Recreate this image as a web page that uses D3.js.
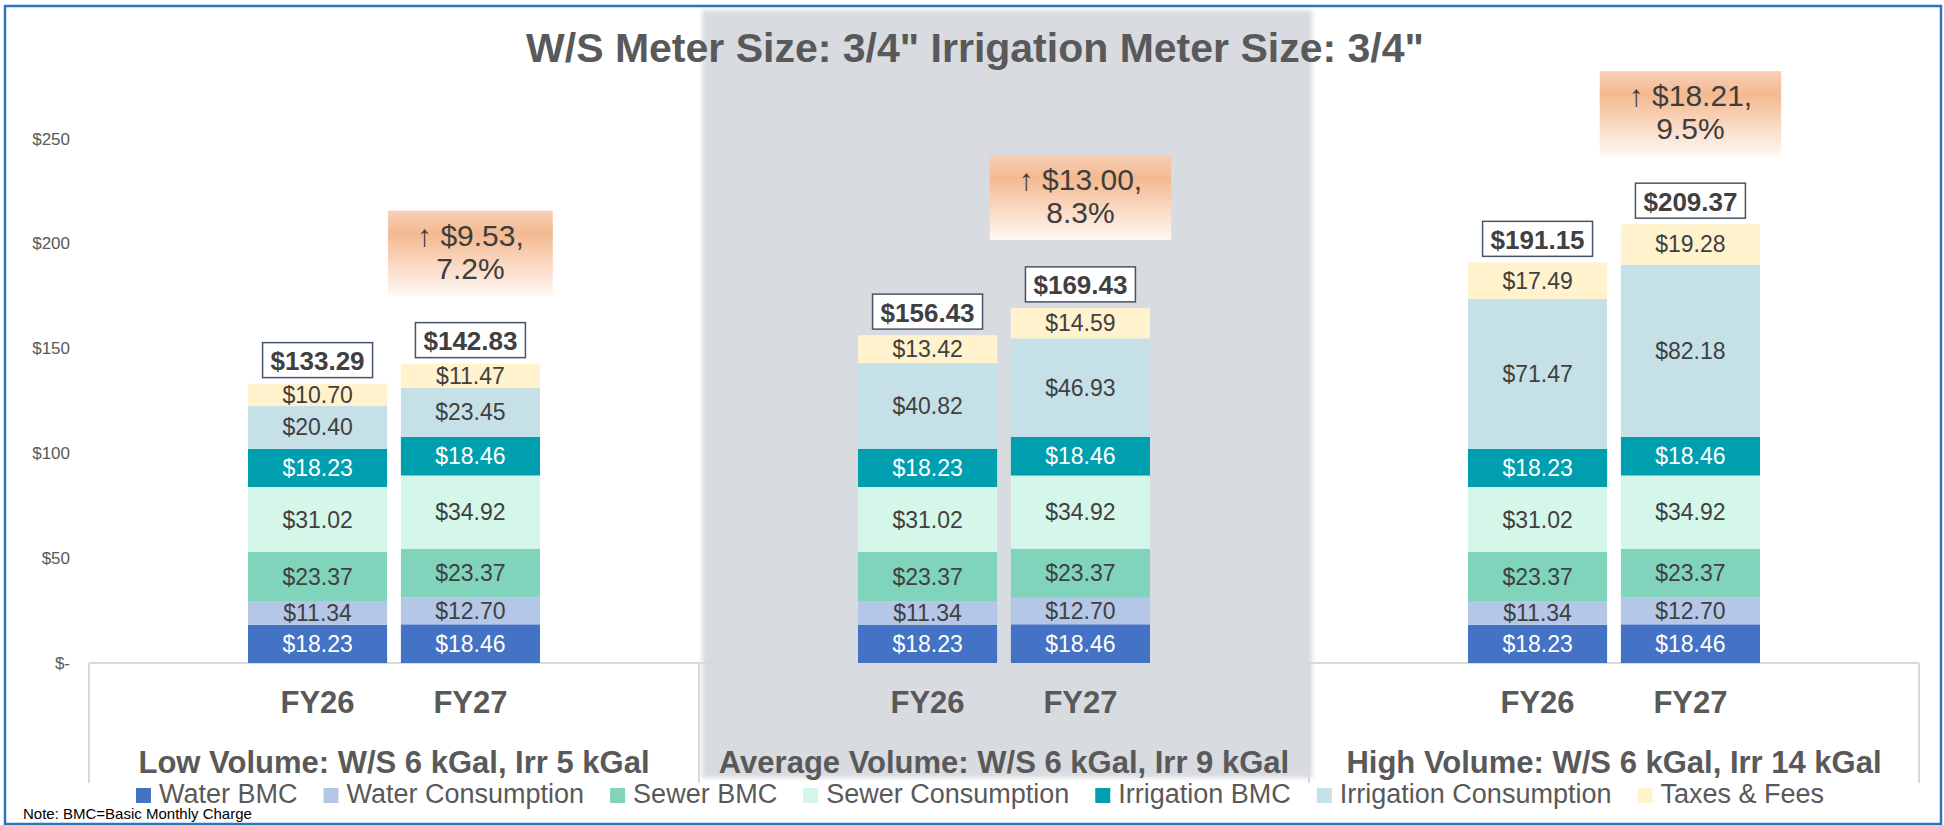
<!DOCTYPE html>
<meta charset="utf-8">
<style>
body { margin: 0; background: #fff; }
text { font-family: "Liberation Sans", Arial, sans-serif; }
.seg-label { font-size: 23px; text-anchor: middle; dominant-baseline: central; }
.total-label { font-size: 26px; font-weight: bold; fill: #404040; text-anchor: middle; dominant-baseline: central; }
.year-label { font-size: 31px; font-weight: bold; fill: #595959; text-anchor: middle; }
.group-label { font-size: 31px; font-weight: bold; fill: #595959; text-anchor: middle; }
.tick-label { font-size: 17px; fill: #595959; }
.legend-label { font-size: 27px; fill: #595959; }
</style>
<body>
<svg id="chart" width="1944" height="825"></svg>
</body>

<script src="https://d3js.org/d3.v7.min.js"></script>
<script>

// ---- data ----
var groups = ["Low Volume: W/S 6 kGal, Irr 5 kGal",
              "Average Volume: W/S 6 kGal, Irr 9 kGal",
              "High Volume: W/S 6 kGal, Irr 14 kGal"];
var years = ["FY26", "FY27"];

var seriesNames = ["Water BMC", "Water Consumption", "Sewer BMC", "Sewer Consumption",
                   "Irrigation BMC", "Irrigation Consumption", "Taxes & Fees"];
var seriesColors = ["#4472C4", "#B4C7E7", "#80D4BB", "#D4F7EA", "#009FAF", "#C6E0E7", "#FFF2CC"];
var labelColors  = ["#ffffff", "#404040", "#404040", "#404040", "#ffffff", "#404040", "#404040"];

// order: Low FY26, Low FY27, Avg FY26, Avg FY27, High FY26, High FY27
var waterBMC   = [18.23, 18.46, 18.23, 18.46, 18.23, 18.46];
var waterCons  = [11.34, 12.70, 11.34, 12.70, 11.34, 12.70];
var sewerBMC   = [23.37, 23.37, 23.37, 23.37, 23.37, 23.37];
var sewerCons  = [31.02, 34.92, 31.02, 34.92, 31.02, 34.92];
var irrBMC     = [18.23, 18.46, 18.23, 18.46, 18.23, 18.46];
var irrCons    = [20.40, 23.45, 40.82, 46.93, 71.47, 82.18];
var taxesFees  = [10.70, 11.47, 13.42, 14.59, 17.49, 19.28];

var increase    = [9.53, 13.00, 18.21];
var increasePct = [7.2, 8.3, 9.5];

var yTicks = [0, 50, 100, 150, 200, 250];

var title = "W/S Meter Size: 3/4\" Irrigation Meter Size: 3/4\"";
var note = "Note: BMC=Basic Monthly Charge";

// ---- build rows ----
var seriesValues = [waterBMC, waterCons, sewerBMC, sewerCons, irrBMC, irrCons, taxesFees];
var rows = [];
groups.forEach(function(g, gi) {
  years.forEach(function(yr, yi) {
    var r = {group: g, year: yr, idx: gi * 2 + yi};
    seriesNames.forEach(function(s, si) { r[s] = seriesValues[si][gi * 2 + yi]; });
    r.total = d3.sum(seriesNames, function(s) { return r[s]; });
    rows.push(r);
  });
});

var stacked = d3.stack().keys(seriesNames)(rows);

// ---- scales ----
var svg = d3.select("#chart");
var W = 1944, H = 825;

var x0 = d3.scaleBand().domain(groups).range([89, 1919]).padding(0);
var x1 = d3.scaleBand().domain(years).range([0, x0.bandwidth()])
    .paddingInner(0.09).paddingOuter(1.04);
var y = d3.scaleLinear().domain([0, 250]).range([663, 139]);

function barX(d) { return x0(d.group) + x1(d.year); }
var money = d3.format(".2f");

// ---- defs ----
var defs = svg.append("defs");
var grad = defs.append("linearGradient").attr("id", "calloutGrad")
    .attr("x1", 0).attr("y1", 0).attr("x2", 0).attr("y2", 1);
grad.append("stop").attr("offset", "0%").attr("stop-color", "#F8D0B7");
grad.append("stop").attr("offset", "27%").attr("stop-color", "#F4B990");
grad.append("stop").attr("offset", "100%").attr("stop-color", "#FFF8F4");

var blur = defs.append("filter").attr("id", "soft")
    .attr("x", "-5%").attr("y", "-5%").attr("width", "110%").attr("height", "110%");
blur.append("feGaussianBlur").attr("stdDeviation", 2);

// ---- background ----
svg.append("rect").attr("width", W).attr("height", H).attr("fill", "#fff");

// highlighted middle group panel
svg.append("rect")
    .attr("x", x0(groups[1]) + 3)
    .attr("y", 10)
    .attr("width", x0.bandwidth())
    .attr("height", 768)
    .attr("fill", "#D8DBE0")
    .attr("filter", "url(#soft)");

// outer border
svg.append("rect")
    .attr("x", 5).attr("y", 6)
    .attr("width", 1936).attr("height", 818)
    .attr("fill", "none")
    .attr("stroke", "#2E75B6")
    .attr("stroke-width", 2.5);

// title
svg.append("text")
    .attr("x", 975).attr("y", 62)
    .attr("text-anchor", "middle")
    .style("font-size", "41px")
    .style("font-weight", "bold")
    .style("fill", "#595959")
    .text(title);

// ---- y axis (labels only) ----
svg.selectAll(".tick-label")
  .data(yTicks)
  .enter().append("text")
    .attr("class", "tick-label")
    .attr("x", 70)
    .attr("y", function(d) { return y(d); })
    .attr("text-anchor", "end")
    .attr("dominant-baseline", "central")
    .text(function(d) { return d === 0 ? "$-" : "$" + d; });

// ---- category axis box ----
var axisG = svg.append("g").attr("stroke", "#D9D9D9").attr("stroke-width", 2);
axisG.append("line")
    .attr("x1", x0.range()[0]).attr("x2", x0.range()[1])
    .attr("y1", y(0)).attr("y2", y(0));
var bounds = groups.map(function(g) { return x0(g); }).concat([x0.range()[1]]);
axisG.selectAll(".div")
  .data(bounds)
  .enter().append("line")
    .attr("x1", function(d) { return d; }).attr("x2", function(d) { return d; })
    .attr("y1", y(0)).attr("y2", 783);

// ---- bars ----
var layer = svg.selectAll(".layer")
  .data(stacked)
  .enter().append("g")
    .attr("class", "layer")
    .attr("fill", function(d, i) { return seriesColors[i]; });

layer.selectAll("rect")
  .data(function(d) { return d; })
  .enter().append("rect")
    .attr("x", function(d) { return barX(d.data); })
    .attr("y", function(d) { return y(d[1]); })
    .attr("width", x1.bandwidth())
    .attr("height", function(d) { return y(d[0]) - y(d[1]); });

// segment labels
stacked.forEach(function(s, si) {
  svg.append("g").selectAll("text")
    .data(s)
    .enter().append("text")
      .attr("class", "seg-label")
      .attr("x", function(d) { return barX(d.data) + x1.bandwidth() / 2; })
      .attr("y", function(d) { return (y(d[0]) + y(d[1])) / 2; })
      .style("fill", labelColors[si])
      .text(function(d) { return "$" + money(d[1] - d[0]); });
});

// total labels with boxes
var totals = svg.selectAll(".total")
  .data(rows)
  .enter().append("g")
    .attr("class", "total")
    .attr("transform", function(d) {
      return "translate(" + (barX(d) + x1.bandwidth() / 2) + "," + (y(d.total) - 6 - 17.5) + ")";
    });
totals.append("rect").attr("class", "tbox");
totals.append("text")
    .attr("class", "total-label")
    .attr("y", 1)
    .text(function(d) { return "$" + money(d.total); });
totals.each(function() {
  var g = d3.select(this);
  var w = g.select("text").node().getComputedTextLength() + 16;
  g.select("rect")
    .attr("x", -w / 2).attr("y", -17.5)
    .attr("width", w).attr("height", 35)
    .attr("fill", "#fff")
    .attr("stroke", "#44546A")
    .attr("stroke-width", 1.5);
});

// year labels
svg.selectAll(".year-label")
  .data(rows)
  .enter().append("text")
    .attr("class", "year-label")
    .attr("x", function(d) { return barX(d) + x1.bandwidth() / 2; })
    .attr("y", 713)
    .text(function(d) { return d.year; });

// group labels
svg.selectAll(".group-label")
  .data(groups)
  .enter().append("text")
    .attr("class", "group-label")
    .attr("x", function(d) { return x0(d) + x0.bandwidth() / 2; })
    .attr("y", 773)
    .text(function(d) { return d; });

// ---- increase callouts ----
var fy27 = rows.filter(function(d) { return d.year === "FY27"; });
var callouts = svg.selectAll(".callout")
  .data(fy27)
  .enter().append("g")
    .attr("class", "callout")
    .attr("transform", function(d) {
      return "translate(" + (barX(d) + x1.bandwidth() / 2) + "," + (y(d.total) - 68) + ")";
    });
callouts.append("rect").attr("class", "cbox");
callouts.each(function(d, i) {
  var g = d3.select(this);
  var t1 = g.append("text")
      .attr("text-anchor", "middle")
      .attr("y", -50)
      .style("font-size", "30px")
      .style("fill", "#3d3d3d")
      .text("\u2191 $" + money(increase[i]) + ",");
  var t2 = g.append("text")
      .attr("text-anchor", "middle")
      .attr("y", -17)
      .style("font-size", "30px")
      .style("fill", "#3d3d3d")
      .text(increasePct[i].toFixed(1) + "%");
  var w = Math.max(t1.node().getComputedTextLength(), t2.node().getComputedTextLength()) + 58;
  g.select("rect")
    .attr("x", -w / 2).attr("y", -85)
    .attr("width", w).attr("height", 85)
    .attr("fill", "url(#calloutGrad)");
});

// ---- legend ----
var legend = svg.append("g");
var lx = 0;
var items = legend.selectAll(".leg")
  .data(seriesNames)
  .enter().append("g")
    .attr("class", "leg");
items.append("rect")
    .attr("width", 15).attr("height", 15)
    .attr("y", 788)
    .attr("fill", function(d, i) { return seriesColors[i]; });
items.append("text")
    .attr("class", "legend-label")
    .attr("x", 23)
    .attr("y", 803)
    .text(function(d) { return d; });
items.each(function() {
  var g = d3.select(this);
  g.attr("transform", "translate(" + lx + ",0)");
  lx += 23 + g.select("text").node().getComputedTextLength() + 26;
});
var legendW = lx - 26;
legend.attr("transform", "translate(" + (980 - legendW / 2) + ",0)");

// note
svg.append("text")
    .attr("x", 23).attr("y", 819)
    .style("font-size", "15px")
    .style("fill", "#000")
    .text(note);

</script>
